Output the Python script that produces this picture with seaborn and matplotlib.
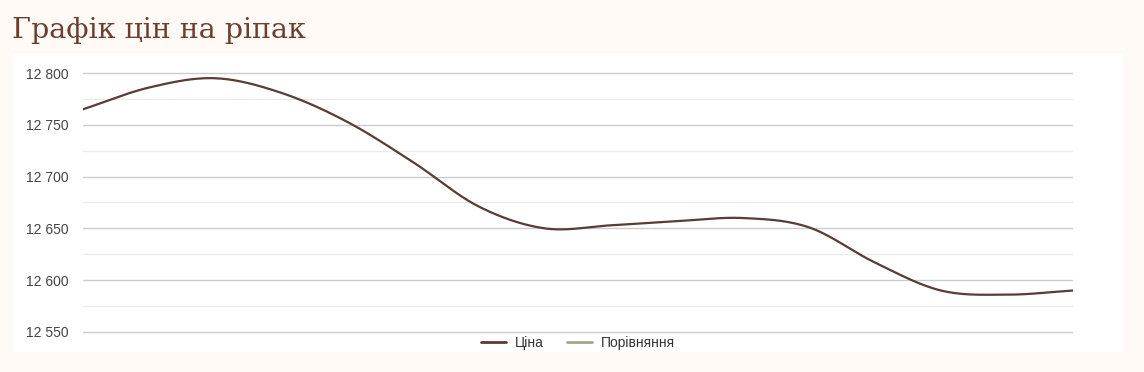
import numpy as np
import pandas as pd
import matplotlib
matplotlib.use("Agg")
import matplotlib.pyplot as plt
import seaborn as sns
from matplotlib.patches import Rectangle
from matplotlib.lines import Line2D
from matplotlib.ticker import FuncFormatter, MultipleLocator

# ---- data ----
title = "Графік цін на ріпак"
series_names = ["Ціна", "Порівняння"]
price = [12765, 12786, 12795, 12781, 12753, 12714, 12671, 12650,
         12653, 12657, 12660, 12651, 12617, 12590, 12586, 12590]
comparison = []  # no visible values
y_ticks = [12550, 12600, 12650, 12700, 12750, 12800]

# ---- style ----
sns.set_theme(style="white")
plt.rcParams['font.family'] = ['Liberation Sans', 'DejaVu Sans']

BG = "#fffaf6"
LINE = "#5a3b36"
CMP = "#a8a58e"

fig = plt.figure(figsize=(11.44, 3.72), dpi=100, facecolor=BG)
fig.patches.append(Rectangle((13/1144, 20/372), 1110/1144, 299/372,
                             transform=fig.transFigure, facecolor="white",
                             edgecolor="none", zorder=-5))
# axes spans 12548.5 .. 12801.5 (1.036 px per unit)
ax = fig.add_axes([83/1144, 1-333.5/372, 990/1144, 262/372])
ax.set_facecolor("none")
ax.set_zorder(2)

# smooth rendering of the series (Catmull-Rom through data points)
def smooth(vals, n=30):
    v = np.asarray(vals, float)
    p = np.concatenate([[2*v[0]-v[1]], v, [2*v[-1]-v[-2]]])
    xs, ys = [], []
    for i in range(1, len(p) - 2):
        t = np.linspace(0, 1, n, endpoint=False)
        p0, p1, p2, p3 = p[i-1], p[i], p[i+1], p[i+2]
        y = 0.5*((2*p1) + (-p0+p2)*t + (2*p0-5*p1+4*p2-p3)*t**2 + (-p0+3*p1-3*p2+p3)*t**3)
        xs.extend(i - 1 + t)
        ys.extend(y)
    xs.append(len(v)-1); ys.append(v[-1])
    return np.array(xs), np.array(ys)

sx, sy = smooth(price)
df = pd.DataFrame({"x": sx, "y": sy})
sns.lineplot(data=df, x="x", y="y", ax=ax, color=LINE, linewidth=1.6,
             legend=False, estimator=None, sort=False)

ax.set_xlim(0, len(price)-1)
ax.set_ylim(12548.5, 12801.5)
ax.set_yticks(y_ticks)
ax.yaxis.set_minor_locator(MultipleLocator(25))
ax.yaxis.set_major_formatter(FuncFormatter(lambda v, p: f"{int(v):,}".replace(",", " ")))
ax.grid(axis="y", which="major", color="#cccccc", linewidth=1)
ax.grid(axis="y", which="minor", color="#ebebeb", linewidth=1)
ax.set_axisbelow(True)
ax.set_xticks([])
ax.set_xlabel(""); ax.set_ylabel("")
for s in ax.spines.values():
    s.set_visible(False)
ax.tick_params(axis="y", which="both", length=0, pad=10, labelsize=10, labelcolor="#444444")

handles = [Line2D([], [], color=LINE, linewidth=2),
           Line2D([], [], color=CMP, linewidth=2)]
fig.legend(handles, series_names, loc="center", bbox_to_anchor=(578/1144, 1-343/372),
           ncol=2, frameon=False, fontsize=10, handlelength=1.8, handletextpad=0.6,
           columnspacing=1.7, labelcolor="#333333")

fig.text(12/1144, 1-38/372, title, family=["DejaVu Serif"], fontsize=20.5,
         color="#6b3e2e", va="baseline", ha="left")

fig.savefig("out.png", dpi=100, facecolor=BG)
